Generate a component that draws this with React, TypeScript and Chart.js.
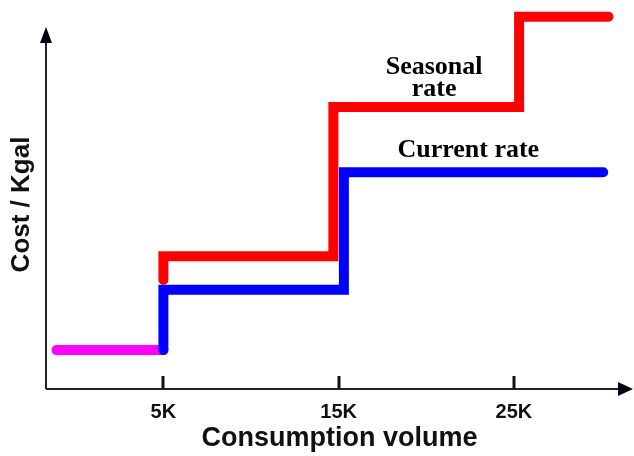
import React, { useEffect, useRef } from 'react';
import { Chart, registerables } from 'chart.js';

Chart.register(...registerables);

// X values are in thousands of gallons (K), Y values are cost per Kgal (arbitrary units)
const xTickValues = [5, 15, 25];
const xTickLabels = ['5K', '15K', '25K'];

const baseRate = [
  { x: -1.1, y: 1.0 },
  { x: 5, y: 1.0 },
];

const currentRate = [
  { x: 5, y: 1.0 },
  { x: 5, y: 2.55 },
  { x: 15.3, y: 2.55 },
  { x: 15.3, y: 5.57 },
  { x: 30.1, y: 5.57 },
];

const seasonalRate = [
  { x: 5, y: 2.8 },
  { x: 5, y: 3.41 },
  { x: 14.7, y: 3.41 },
  { x: 14.7, y: 7.25 },
  { x: 25.3, y: 7.25 },
  { x: 25.3, y: 9.57 },
  { x: 30.4, y: 9.57 },
];

const annotations = [
  { lines: ['Seasonal', 'rate'], x: 20.45, y: 8.0 },
  { lines: ['Current rate'], x: 22.4, y: 6.14 },
];

const SANS = '"Liberation Sans", Arial, sans-serif';
const SERIF = '"Liberation Serif", "Times New Roman", serif';

const axesPlugin = {
  id: 'arrowAxes',
  afterDraw(chart: any) {
    const { ctx, chartArea, scales } = chart;
    const xs = scales.x;
    const ys = scales.y;
    const left = chartArea.left;
    const bottom = chartArea.bottom;
    ctx.save();
    // axis lines
    ctx.strokeStyle = '#222222';
    ctx.lineWidth = 2;
    ctx.beginPath();
    ctx.moveTo(left, bottom);
    ctx.lineTo(left, 38);
    ctx.moveTo(left, bottom);
    ctx.lineTo(622, bottom);
    ctx.stroke();
    // arrow heads
    ctx.fillStyle = '#000010';
    ctx.beginPath();
    ctx.moveTo(left, 27);
    ctx.lineTo(left + 6, 43);
    ctx.lineTo(left - 6, 43);
    ctx.closePath();
    ctx.fill();
    ctx.beginPath();
    ctx.moveTo(633, bottom);
    ctx.lineTo(618, bottom - 7);
    ctx.lineTo(618, bottom + 7);
    ctx.closePath();
    ctx.fill();
    // tick marks (inside)
    ctx.strokeStyle = '#111111';
    ctx.lineWidth = 3;
    ctx.beginPath();
    xTickValues.forEach((v) => {
      const px = Math.round(xs.getPixelForValue(v));
      ctx.moveTo(px, bottom - 13);
      ctx.lineTo(px, bottom);
    });
    ctx.stroke();
    // annotations
    ctx.fillStyle = '#000000';
    ctx.font = 'bold 26px ' + SERIF;
    ctx.textAlign = 'center';
    ctx.textBaseline = 'middle';
    annotations.forEach((a) => {
      const px = xs.getPixelForValue(a.x);
      const py = ys.getPixelForValue(a.y);
      const lh = 22;
      const start = py - ((a.lines.length - 1) * lh) / 2;
      a.lines.forEach((t, i) => ctx.fillText(t, px, start + i * lh));
    });
    ctx.restore();
  },
};

export default function App() {
  const ref = useRef<HTMLCanvasElement | null>(null);
  useEffect(() => {
    if (!ref.current) return;
    const common = {
      fill: false,
      borderWidth: 10,
      borderCapStyle: 'round',
      borderJoinStyle: 'miter',
      pointRadius: 0,
      pointHoverRadius: 0,
      tension: 0,
      clip: false,
    };
    const chart = new Chart(ref.current, {
      type: 'line',
      data: {
        datasets: [
          { label: 'Seasonal rate', data: seasonalRate, borderColor: '#ff0000', order: 0, ...common },
          { label: 'Current rate', data: currentRate, borderColor: '#0000ff', order: 1, ...common },
          { label: 'Base rate', data: baseRate, borderColor: '#ff00ff', order: 2, ...common },
        ],
      } as any,
      options: {
        animation: false,
        responsive: false,
        devicePixelRatio: 1,
        layout: { padding: { top: 20, right: 1, bottom: 0, left: 0 } },
        plugins: { legend: { display: false }, tooltip: { enabled: false } },
        scales: {
          x: {
            type: 'linear',
            min: -1.7,
            max: 31.8,
            grid: { display: false, drawTicks: false },
            border: { display: false },
            afterBuildTicks: (s: any) => {
              s.ticks = xTickValues.map((v) => ({ value: v }));
            },
            afterFit: (s: any) => {
              s.height = 67;
            },
            ticks: {
              autoSkip: false,
              maxRotation: 0,
              padding: 11,
              color: '#111111',
              font: { family: SANS, size: 20, weight: 'bold' },
              callback: (v: any) => xTickLabels[xTickValues.indexOf(Number(v))] ?? '',
            },
            title: {
              display: true,
              text: 'Consumption volume',
              color: '#111111',
              font: { family: SANS, size: 27, weight: 'bold' },
              padding: { top: 0, bottom: 1 },
            },
          },
          y: {
            type: 'linear',
            min: 0,
            max: 9.486,
            grid: { display: false, drawTicks: false },
            border: { display: false },
            ticks: { display: false },
            afterFit: (s: any) => {
              s.width = 46;
            },
            title: {
              display: true,
              text: 'Cost / Kgal',
              color: '#111111',
              font: { family: SANS, size: 26, weight: 'bold' },
              padding: { top: 6, bottom: 0 },
            },
          },
        },
      } as any,
      plugins: [axesPlugin],
    });
    return () => chart.destroy();
  }, []);
  return (
    <div style={{ position: 'fixed', left: 0, top: 0, width: 634, height: 456, background: '#ffffff' }}>
      <canvas ref={ref} width={634} height={456} />
    </div>
  );
}
